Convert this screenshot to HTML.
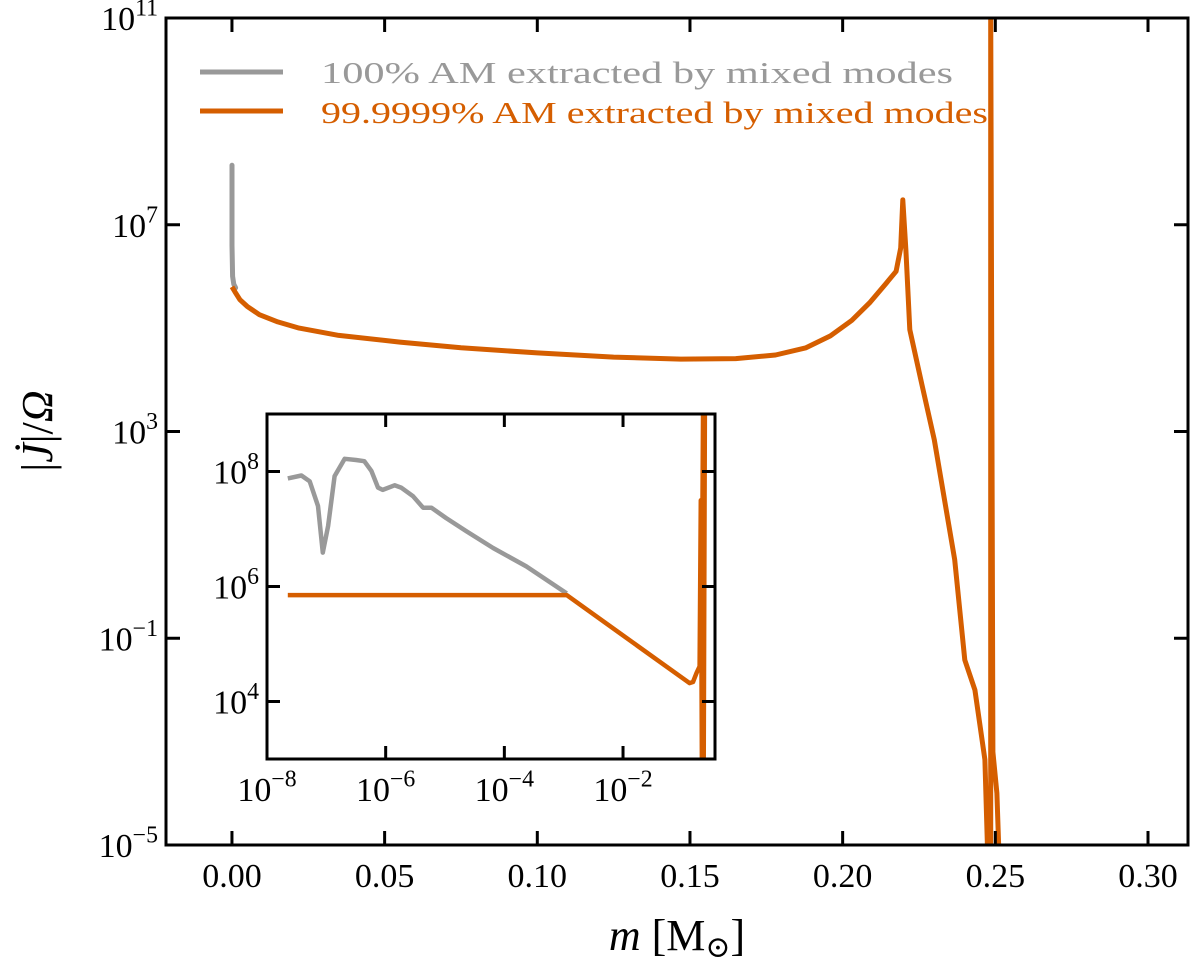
<!DOCTYPE html>
<html><head><meta charset="utf-8"><style>
html,body{margin:0;padding:0;background:#fff;}
svg{display:block;font-family:"Liberation Serif","DejaVu Serif",serif;}
</style></head><body>
<svg id="chart" width="1200" height="961" viewBox="0 0 1200 961">
<defs>
<clipPath id="mainClip"><rect x="166" y="18" width="1022" height="827"/></clipPath>
<clipPath id="insetClip"><rect x="267" y="414" width="448" height="345"/></clipPath>
</defs>
<g id="main"></g>
<rect x="267" y="414" width="448" height="345" fill="#fff"/>
<g id="inset"></g>
<g>
<line x1="200" y1="72" x2="283" y2="72" stroke="#999" stroke-width="5"/>
<text x="321" y="83" font-size="31" fill="#999" textLength="632" lengthAdjust="spacingAndGlyphs">100% AM extracted by mixed modes</text>
<line x1="200" y1="111" x2="283" y2="111" stroke="#d55e00" stroke-width="5"/>
<text x="321" y="123" font-size="31" fill="#d55e00" textLength="667" lengthAdjust="spacingAndGlyphs">99.9999% AM extracted by mixed modes</text>
</g>
<text x="677" y="950" font-size="44" text-anchor="middle"><tspan font-style="italic">m</tspan> [M<tspan font-size="30" dy="7">⊙</tspan><tspan dy="-7">]</tspan></text>
<text transform="translate(52,431) rotate(-90)" font-size="44" text-anchor="middle">|<tspan font-style="italic">J̇</tspan>|/<tspan font-style="italic">Ω</tspan></text>
</svg>
<script>
const NS="http://www.w3.org/2000/svg";
// main axes data
const xTicks=[0,0.05,0.10,0.15,0.20,0.25,0.30];
const xTickLabels=["0.00","0.05","0.10","0.15","0.20","0.25","0.30"];
const yTickExp=[11,7,3,-1,-5];
// main series: m, log10(|J|/Omega)
const greyM=[0,0,0.0002,0.0006,0.0012];
const greyLogY=[8.15,6.6,6.0,5.85,5.78];
const orangeM=[0,0.001,0.0026,0.005,0.009,0.015,0.022,0.035,0.055,0.075,0.1,0.125,0.147,0.165,0.178,0.188,0.196,0.203,0.209,0.214,0.2175,0.219,0.2197,0.2207,0.222,0.226,0.230,0.2367,0.240,0.2433,0.2466,0.2475,0.2485,0.2485,0.2492,0.2505,0.2512];
const orangeLogY=[5.8,5.7,5.55,5.42,5.26,5.12,5.0,4.86,4.73,4.62,4.52,4.44,4.40,4.41,4.48,4.62,4.85,5.15,5.5,5.85,6.1,6.55,7.48,6.51,4.97,3.9,2.84,0.52,-1.42,-2.0,-3.35,-5.2,-5.2,11.2,-3.2,-4.0,-5.2];
// inset series: log10(m), log10(|J|/Omega)
const insetGreyLogX=[-7.65,-7.42,-7.28,-7.14,-7.06,-6.97,-6.86,-6.69,-6.50,-6.36,-6.24,-6.13,-6.05,-5.85,-5.74,-5.54,-5.37,-5.23,-4.98,-4.64,-4.19,-3.63,-2.95];
const insetGreyLogY=[7.88,7.93,7.83,7.40,6.59,7.05,7.92,8.22,8.20,8.18,8.01,7.72,7.68,7.76,7.72,7.57,7.37,7.37,7.19,6.96,6.67,6.35,5.88];
const insetOrangeLogX=[-7.65,-2.95,-0.88,-0.82,-0.76,-0.71,-0.69,-0.67,-0.66,-0.65,-0.64,-0.62];
const insetOrangeLogY=[5.85,5.85,4.32,4.34,4.5,4.61,7.5,2.9,7.5,9.2,2.9,9.2];
const insetXExp=[-8,-6,-4,-2];
const insetYExp=[8,6,4];

const X0=166,X1=1188,Y0=18,Y1=845,mMin=-0.0216,mMax=0.3131,lyMin=-5,lyMax=11;
const mx=m=>X0+(m-mMin)/(mMax-mMin)*(X1-X0);
const my=l=>Y1-(l-lyMin)/(lyMax-lyMin)*(Y1-Y0);
const IX0=267,IX1=715,IY0=414,IY1=759,ilxMin=-8,ilxMax=-0.45,ilyMin=3,ilyMax=9;
const ix=l=>IX0+(l-ilxMin)/(ilxMax-ilxMin)*(IX1-IX0);
const iy=l=>IY1-(l-ilyMin)/(ilyMax-ilyMin)*(IY1-IY0);

function mk(tag,attrs,parent){const e=document.createElementNS(NS,tag);for(const k in attrs)e.setAttribute(k,attrs[k]);parent.appendChild(e);return e;}
function poly(xs,ys,fx,fy){return xs.map((v,i)=>fx(v).toFixed(1)+","+fy(ys[i]).toFixed(1)).join(" ");}
function expLabel(parent,x,y,exp,size,anchor){
 const t=mk("text",{x:x,y:y,"font-size":size,"text-anchor":anchor},parent);
 
 
 t.appendChild(document.createTextNode("10"));
 const s=mk("tspan",{dy:-size*0.42,"font-size":size*0.7},t);
 s.textContent=(exp<0?"\u2212":"")+Math.abs(exp);
 return t;}

const main=document.getElementById("main");
const mg=mk("g",{"clip-path":"url(#mainClip)"},main);
const gl=mk("polyline",{points:poly(greyM,greyLogY,mx,my),fill:"none",stroke:"#999","stroke-width":5,"stroke-linejoin":"round","stroke-linecap":"round"},mg);


const ol=mk("polyline",{points:poly(orangeM,orangeLogY,mx,my),fill:"none",stroke:"#d55e00","stroke-width":5,"stroke-linejoin":"round"},mg);


const frame=mk("rect",{x:X0,y:Y0,width:X1-X0,height:Y1-Y0,fill:"none",stroke:"#000","stroke-width":3},main);


xTicks.forEach((v,i)=>{const x=mx(v);
 mk("line",{x1:x,y1:Y1,x2:x,y2:Y1-14,stroke:"#000","stroke-width":3},main);
 mk("line",{x1:x,y1:Y0,x2:x,y2:Y0+14,stroke:"#000","stroke-width":3},main);
 const t=mk("text",{x:x,y:Y1+42,"font-size":34,"text-anchor":"middle"},main);
 
 
 t.textContent=xTickLabels[i];});
yTickExp.forEach(e=>{const y=my(e);
 mk("line",{x1:X0,y1:y,x2:X0+14,y2:y,stroke:"#000","stroke-width":3},main);
 mk("line",{x1:X1,y1:y,x2:X1-14,y2:y,stroke:"#000","stroke-width":3},main);
 expLabel(main,X0-8,y+12,e,34,"end");});

const inset=document.getElementById("inset");
const ig=mk("g",{"clip-path":"url(#insetClip)"},inset);
const igl=mk("polyline",{points:poly(insetGreyLogX,insetGreyLogY,ix,iy),fill:"none",stroke:"#999","stroke-width":4.5,"stroke-linejoin":"round"},ig);


const iol=mk("polyline",{points:poly(insetOrangeLogX,insetOrangeLogY,ix,iy),fill:"none",stroke:"#d55e00","stroke-width":4.5,"stroke-linejoin":"round"},ig);


const iframe=mk("rect",{x:IX0,y:IY0,width:IX1-IX0,height:IY1-IY0,fill:"none",stroke:"#000","stroke-width":3},inset);


insetXExp.forEach(e=>{const x=ix(e);
 if(e>-8){mk("line",{x1:x,y1:IY1,x2:x,y2:IY1-13,stroke:"#000","stroke-width":3},inset);
 mk("line",{x1:x,y1:IY0,x2:x,y2:IY0+13,stroke:"#000","stroke-width":3},inset);}
 expLabel(inset,x,IY1+42,e,34,"middle");});
insetYExp.forEach(e=>{const y=iy(e);
 mk("line",{x1:IX0,y1:y,x2:IX0+13,y2:y,stroke:"#000","stroke-width":3},inset);
 mk("line",{x1:IX1,y1:y,x2:IX1-13,y2:y,stroke:"#000","stroke-width":3},inset);
 expLabel(inset,IX0-8,y+12,e,34,"end");});
</script>
</body></html>
